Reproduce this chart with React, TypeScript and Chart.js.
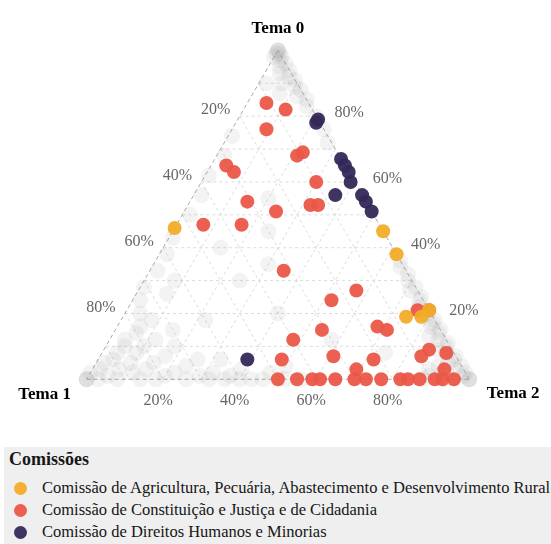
import React, { useEffect, useRef } from "react";
import { Chart, registerables } from "chart.js";

Chart.register(...registerables);

// ---------- Text ----------
const AXIS_TITLES = ["Tema 0", "Tema 1", "Tema 2"];
const TICK_VALUES = [20, 40, 60, 80];
const TICK_LABELS = ["20%", "40%", "60%", "80%"];
const LEGEND_TITLE = "Comissões";
const SERIES_NAMES = [
  "Comissão de Agricultura, Pecuária, Abastecimento e Desenvolvimento Rural",
  "Comissão de Constituição e Justiça e de Cidadania",
  "Comissão de Direitos Humanos e Minorias",
];
const SERIES_COLORS = ["rgba(242,172,40,0.95)", "rgba(235,87,72,0.95)", "rgba(52,40,88,0.95)"];
const OTHER_COLOR = "rgba(160,160,160,0.12)";

// ---------- Data: composition of each document in % (Tema 0, Tema 1, Tema 2) ----------
// Comissão de Agricultura...
const agroT0 = [46, 45, 38, 21, 19, 19];
const agroT1 = [54, 0, 0, 0, 3, 7];
const agroT2 = [0, 55, 62, 79, 78, 74];

// Comissão de Constituição e Justiça...
const ccjT0 = [84, 82, 76, 68, 69, 65, 63, 60, 54, 51, 53, 53, 47, 47, 33, 27, 24, 21, 21, 16, 15, 15, 12, 6, 7, 6, 9, 7, 8, 3, 3,
  0, 0, 0, 0, 0, 0, 0, 0, 0, 0, 0, 0, 0, 0];
const ccjT1 = [11, 7, 15, 11, 9, 31, 30, 10, 31, 25, 15, 13, 46, 36, 32, 16, 24, 3, 0, 16, 14, 31, 40, 46, 32, 22, 6, 9, 2, 28, 5,
  50, 45, 41, 39, 35, 30, 27, 23, 18, 16, 13, 9, 7, 4];
const ccjT2 = [5, 11, 9, 21, 22, 4, 7, 30, 15, 24, 32, 34, 7, 17, 35, 57, 52, 76, 79, 68, 71, 54, 48, 48, 61, 72, 85, 84, 90, 69, 92,
  50, 55, 59, 61, 65, 70, 73, 77, 82, 84, 87, 91, 93, 96];

// Comissão de Direitos Humanos e Minorias
const dhT0 = [79, 78, 67, 65, 63, 60, 56, 56, 54, 51, 6];
const dhT1 = [0, 1, 0, 0, 0, 1, 7, 0, 0, 0, 55];
const dhT2 = [21, 21, 33, 35, 37, 39, 37, 44, 46, 49, 39];

// Other committees (background, grey)
const otherT0 = [
  100, 100, 100, 99, 99, 98, 98, 97, 96, 95, 94, 93, 92, 91, 90, 89, 88, 86, 85, 83, 90, 87, 80, 76, 72,
  0, 0, 0, 2, 0, 3, 1, 5, 0, 3, 6, 8, 2, 5, 0, 10, 12, 8, 3, 0, 14, 10, 5, 1, 16, 12, 7, 2, 0, 18, 10, 4, 1, 0, 6, 2, 0, 1, 0, 3, 0, 20, 24, 15,
  0, 2, 0, 4, 0,
  28, 33, 38, 43, 50, 56, 62, 68, 74, 30, 26,
  0, 0, 0, 1, 2, 3, 4, 5, 6, 7, 8, 9, 10, 11, 12, 13, 14, 15, 16, 17, 18, 19, 20, 21, 22, 24, 25, 27, 28, 30, 32, 34, 36, 2, 0, 1, 4, 0, 3,
  20, 35, 8, 45, 30, 18, 40, 55, 6, 12];
const otherT1 = [
  0, 0, 0, 0, 1, 0, 2, 1, 0, 2, 0, 3, 1, 0, 4, 1, 0, 2, 0, 1, 8, 6, 0, 0, 1,
  100, 100, 100, 98, 97, 95, 94, 93, 92, 90, 90, 88, 87, 86, 86, 85, 84, 83, 83, 82, 80, 80, 80, 79, 78, 76, 76, 76, 74, 74, 72, 72, 70, 68, 68, 66, 64, 62, 60, 58, 57, 76, 74, 70,
  54, 51, 48, 46, 44,
  71, 65, 60, 56, 48, 42, 37, 30, 25, 62, 66,
  0, 0, 0, 1, 0, 2, 0, 3, 1, 0, 2, 4, 1, 0, 2, 4, 1, 0, 2, 1, 0, 3, 1, 0, 2, 1, 0, 2, 0, 1, 0, 1, 0, 5, 7, 10, 6, 12, 9,
  40, 35, 18, 30, 45, 60, 45, 25, 62, 30];
const otherT2 = [
  0, 0, 0, 1, 0, 2, 0, 2, 4, 3, 6, 4, 7, 9, 6, 10, 12, 12, 15, 16, 2, 7, 20, 24, 27,
  0, 0, 0, 0, 3, 2, 5, 2, 8, 7, 4, 4, 11, 9, 14, 5, 4, 9, 14, 18, 6, 10, 15, 20, 6, 12, 17, 22, 26, 8, 18, 24, 29, 32, 26, 32, 36, 37, 40, 39, 43, 4, 2, 15,
  46, 47, 52, 50, 56,
  1, 2, 2, 1, 2, 2, 1, 2, 1, 8, 8,
  100, 100, 100, 98, 98, 95, 96, 92, 93, 93, 90, 87, 89, 89, 86, 83, 85, 85, 82, 82, 82, 78, 79, 79, 76, 75, 75, 71, 72, 69, 68, 65, 64, 93, 93, 89, 90, 88, 88,
  40, 30, 74, 25, 25, 22, 15, 20, 32, 58];

// ---------- Ternary helpers ----------
const H = Math.sqrt(3) / 2;
function toXY(t0: number, t1: number, t2: number) {
  const s = t0 + t1 + t2;
  const a = t0 / s;
  const c = t2 / s;
  return { x: c + a / 2, y: a * H };
}
function buildPoints(t0: number[], t1: number[], t2: number[]) {
  return t0.map((v, i) => toXY(v, t1[i], t2[i]));
}

const SERIF = "'Liberation Serif', 'Times New Roman', serif";

const ternaryPlugin = {
  id: "ternaryGrid",
  beforeDatasetsDraw(chart: any) {
    const { ctx, scales } = chart;
    const xs = scales.x;
    const ys = scales.y;
    const P = (a: number, b: number, c: number) => {
      const p = toXY(a, b, c);
      return [xs.getPixelForValue(p.x), ys.getPixelForValue(p.y)];
    };
    const line = (p: number[], q: number[]) => {
      ctx.beginPath();
      ctx.moveTo(p[0], p[1]);
      ctx.lineTo(q[0], q[1]);
      ctx.stroke();
    };
    ctx.save();
    ctx.lineWidth = 1;
    ctx.setLineDash([3, 3]);
    ctx.strokeStyle = "#dcdcdc";
    for (let k = 10; k < 100; k += 10) {
      line(P(k, 100 - k, 0), P(k, 0, 100 - k));
      line(P(100 - k, k, 0), P(0, k, 100 - k));
      line(P(100 - k, 0, k), P(0, 100 - k, k));
    }
    ctx.strokeStyle = "#a8a8a8";
    ctx.setLineDash([4, 3]);
    const A = P(100, 0, 0);
    const B = P(0, 100, 0);
    const C = P(0, 0, 100);
    line(A, B);
    line(B, C);
    line(C, A);
    ctx.restore();
  },
  afterDraw(chart: any) {
    const { ctx, scales } = chart;
    const xs = scales.x;
    const ys = scales.y;
    const P = (a: number, b: number, c: number) => {
      const p = toXY(a, b, c);
      return [xs.getPixelForValue(p.x), ys.getPixelForValue(p.y)];
    };
    ctx.save();
    ctx.textAlign = "center";
    ctx.textBaseline = "middle";
    ctx.fillStyle = "#666666";
    ctx.font = `16px ${SERIF}`;
    TICK_VALUES.forEach((v, i) => {
      // Tema 0 on right edge
      const r = P(v, 0, 100 - v);
      ctx.fillText(TICK_LABELS[i], r[0] + 33, r[1] - 3);
      // Tema 1 on left edge
      const l = P(100 - v, v, 0);
      ctx.fillText(TICK_LABELS[i], l[0] - 24, l[1] - 6);
      // Tema 2 on base
      const b = P(0, 100 - v, v);
      ctx.fillText(TICK_LABELS[i], b[0] - 5, b[1] + 22);
    });
    ctx.fillStyle = "#000000";
    ctx.font = `bold 17px ${SERIF}`;
    const A = P(100, 0, 0);
    const B = P(0, 100, 0);
    const C = P(0, 0, 100);
    ctx.fillText(AXIS_TITLES[0], A[0], A[1] - 22);
    ctx.fillText(AXIS_TITLES[1], B[0] - 42, B[1] + 15);
    ctx.fillText(AXIS_TITLES[2], C[0] + 44, C[1] + 14);
    ctx.restore();
  },
};

export default function App() {
  const canvasRef = useRef<HTMLCanvasElement | null>(null);

  useEffect(() => {
    if (!canvasRef.current) return;
    const chart = new Chart(canvasRef.current, {
      type: "scatter",
      data: {
        datasets: [
          { label: SERIES_NAMES[0], data: buildPoints(agroT0, agroT1, agroT2), backgroundColor: SERIES_COLORS[0] },
          { label: SERIES_NAMES[1], data: buildPoints(ccjT0, ccjT1, ccjT2), backgroundColor: SERIES_COLORS[1] },
          { label: SERIES_NAMES[2], data: buildPoints(dhT0, dhT1, dhT2), backgroundColor: SERIES_COLORS[2] },
          { label: "Outras", data: buildPoints(otherT0, otherT1, otherT2), backgroundColor: OTHER_COLOR, pointRadius: 8 },
        ] as any,
      },
      options: {
        animation: false,
        responsive: false,
        events: [],
        layout: { padding: 0 },
        elements: { point: { radius: 7, borderWidth: 0, hoverRadius: 7 } },
        scales: {
          x: { type: "linear", min: -0.2056, max: 1.1929, display: false },
          y: { type: "linear", min: -0.1574, max: 0.9777, display: false },
        },
        plugins: { legend: { display: false }, tooltip: { enabled: false }, title: { display: false } },
      },
      plugins: [ternaryPlugin],
    });
    return () => chart.destroy();
  }, []);

  return (
    <div style={{ position: "absolute", left: 0, top: 0, width: 551, height: 544, background: "#fff" }}>
      <canvas ref={canvasRef} width={551} height={447} style={{ position: "absolute", left: 0, top: 0, width: 551, height: 447 }} />
      <div
        style={{
          position: "absolute",
          left: 4,
          top: 447,
          width: 547,
          height: 97,
          background: "#efefef",
          fontFamily: SERIF,
          color: "#161616",
        }}
      >
        <div style={{ position: "absolute", left: 5, top: 2, lineHeight: "20px", fontSize: 18, fontWeight: "bold" }}>
          {LEGEND_TITLE}
        </div>
        {SERIES_NAMES.map((name, i) => (
          <div
            key={name}
            style={{ position: "absolute", left: 0, top: 30 + i * 22, height: 22, lineHeight: "22px", fontSize: 16.5, whiteSpace: "nowrap" }}
          >
            <span
              style={{
                position: "absolute",
                left: 9.5,
                top: 4.5,
                width: 13,
                height: 13,
                borderRadius: "50%",
                background: SERIES_COLORS[i],
              }}
            />
            <span style={{ position: "absolute", left: 38, top: 0 }}>{name}</span>
          </div>
        ))}
      </div>
    </div>
  );
}
